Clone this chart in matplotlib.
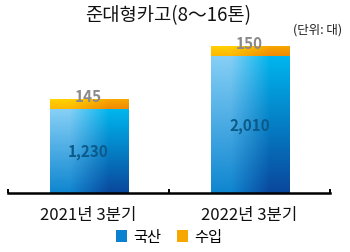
import matplotlib
matplotlib.use("Agg")

import numpy as np
import matplotlib.pyplot as plt
from matplotlib.patches import Patch

plt.rcParams['font.family'] = ['Noto Sans CJK KR', 'DejaVu Sans']

# ---- data ----
categories = ['2021년 3분기', '2022년 3분기']
domestic = [1230, 2010]   # 국산
imported = [145, 150]     # 수입
series_names = ['국산', '수입']


def gradient(top_left, bot_left, top_right, bot_right, n=100):
    c = matplotlib.colors.to_rgb
    t = np.linspace(0, 1, n)[:, None]
    left = (1 - t) * np.array(c(top_left)) + t * np.array(c(bot_left))
    right = (1 - t) * np.array(c(top_right)) + t * np.array(c(bot_right))
    return np.stack([left, right], axis=1)


blue_grad = gradient('#86d0f6', '#0f86d0', '#00b6ee', '#0a479c')
orange_grad = gradient('#ffd200', '#ffb800', '#f7a800', '#f08a00', n=20)


def paint(ax, bars, img):
    for b in bars:
        x0, y0 = b.get_x(), b.get_y()
        im = ax.imshow(img, extent=(x0, x0 + b.get_width(), y0, y0 + b.get_height()),
                       aspect='auto', origin='upper', interpolation='bilinear', zorder=2)
        im.set_clip_path(b)


fig = plt.figure(figsize=(3.5, 2.53), dpi=100)
ax = fig.add_axes([0.023, 0.233, 0.92, 0.648])

x = np.arange(len(categories))
w = 0.485
bars_d = ax.bar(x, domestic, w, color='none', edgecolor='none', zorder=2)
bars_i = ax.bar(x, imported, w, bottom=domestic, color='none', edgecolor='none', zorder=2)
paint(ax, bars_d, blue_grad)
paint(ax, bars_i, orange_grad)

# value labels
for xi, d, i in zip(x, domestic, imported):
    ax.text(xi, d / 2, f'{d:,}', ha='center', va='center', fontsize=11,
            fontweight='bold', color='#0b5a8a', zorder=3)
    ax.text(xi, d + i + 45, f'{i:,}', ha='center', va='center', fontsize=11,
            fontweight='bold', color='#8a8a8a', zorder=3)

ax.set_xlim(-0.5, 1.5)
ax.set_ylim(0, 2405)
for s in ['top', 'right', 'left']:
    ax.spines[s].set_visible(False)
ax.spines['bottom'].set_linewidth(1.8)
ax.set_yticks([])
ax.set_xticks([-0.5, 0.5, 1.5])
ax.set_xticklabels([])
ax.tick_params(axis='x', direction='in', length=3, width=1.4)

for xi, lab in zip(x, categories):
    ax.text(xi, -0.13, lab, transform=ax.get_xaxis_transform(), ha='center',
            va='center', fontsize=12, color='#111111')

fig.text(0.48, 0.94, '준대형카고(8～16톤)', ha='center', va='center',
         fontsize=13.5, fontweight='medium', color='#111111')
fig.text(0.978, 0.88, '(단위: 대)', ha='right', va='center', fontsize=9,
         color='#222222')

handles = [Patch(facecolor='#0a80d0', label=series_names[0]),
           Patch(facecolor='#f7a800', label=series_names[1])]
fig.legend(handles=handles, loc='center', bbox_to_anchor=(0.483, 0.06), ncol=2,
           frameon=False, fontsize=11, handlelength=0.75, handleheight=0.75,
           handletextpad=0.4, columnspacing=1.0)

fig.savefig('out.png', dpi=100)
